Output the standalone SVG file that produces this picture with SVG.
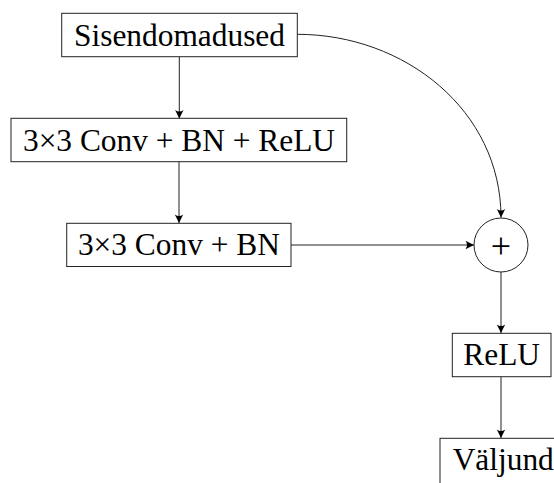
<svg xmlns="http://www.w3.org/2000/svg" width="554" height="483" viewBox="0 0 554 483">
<style>
.box{fill:#fff;stroke:#222;stroke-width:1}
.t{font-family:"Liberation Serif","Times New Roman",serif;font-size:31.4px;fill:#000}
.c{fill:none;stroke:#222;stroke-width:1}
</style>
<defs>
<marker id="ah" viewBox="-10 -5 11 10" refX="0" refY="0" markerWidth="11" markerHeight="10" markerUnits="userSpaceOnUse" orient="auto">
<path d="M0,0 L-8.5,-4.2 Q-5.5,0 -8.5,4.2 Z" fill="#000"/>
</marker>
</defs>
<g id="connectors">
<line class="c" x1="179.3" y1="56.7" x2="179.3" y2="118.5" marker-end="url(#ah)"/>
<line class="c" x1="179" y1="161.7" x2="179" y2="223" marker-end="url(#ah)"/>
<line class="c" x1="291" y1="245" x2="474" y2="245" marker-end="url(#ah)"/>
<path class="c" d="M297.3,34.3 C404.6,34.3 501,110.4 501,217.5" marker-end="url(#ah)"/>
<line class="c" x1="501" y1="272" x2="501" y2="333" marker-end="url(#ah)"/>
<line class="c" x1="501" y1="376.7" x2="501" y2="438" marker-end="url(#ah)"/>
</g>
<g id="n1">
<rect class="box" x="61.7" y="13.3" width="235.6" height="43.4"/>
<text class="t" x="179.5" y="45.7" text-anchor="middle">Sisendomadused</text>
</g>
<g id="n2">
<rect class="box" x="11" y="118.3" width="335.7" height="43.4"/>
<text class="t" x="179" y="150.7" text-anchor="middle">3×3 Conv + BN + ReLU</text>
</g>
<g id="n3">
<rect class="box" x="66.7" y="223.3" width="224.3" height="43.2"/>
<text class="t" x="178.9" y="254.5" text-anchor="middle">3×3 Conv + BN</text>
</g>
<g id="add">
<circle class="box" cx="501" cy="245" r="27"/>
<text class="t" x="501" y="257.5" text-anchor="middle" style="font-size:36px">+</text>
</g>
<g id="relu">
<rect class="box" x="452.3" y="333.3" width="98.7" height="43.4"/>
<text class="t" x="501.7" y="364.5" text-anchor="middle">ReLU</text>
</g>
<g id="out">
<rect class="box" x="440" y="438.3" width="125" height="60"/>
<text class="t" x="452.7" y="470">Väljund</text>
</g>
</svg>
